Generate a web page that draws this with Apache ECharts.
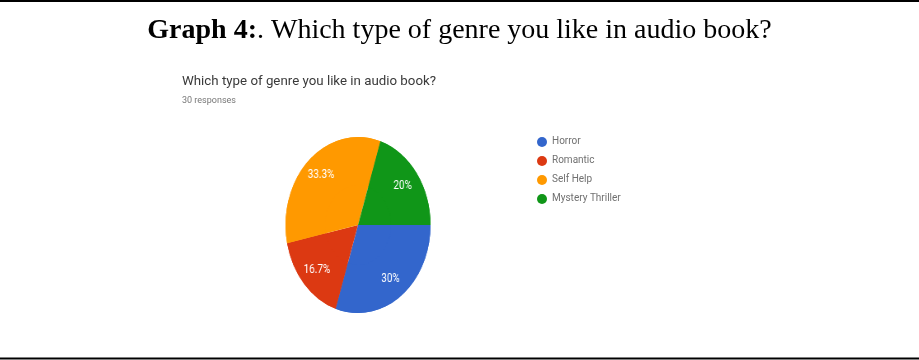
<!DOCTYPE html>
<html>
<head>
<meta charset="utf-8">
<script src="https://cdn.jsdelivr.net/npm/echarts@6/dist/echarts.min.js"></script>
<style>
  html, body { margin: 0; padding: 0; background: #fff; }
  #page { position: absolute; left: 0; top: 0; width: 919px; height: 360px; }
  /* the pie is drawn in its own layer and squeezed horizontally into an ellipse */
  #pie { position: absolute; left: 258px; top: 130px; width: 200px; height: 190px;
         transform: scaleX(0.824); transform-origin: 50% 50%; filter: blur(0.4px); }
</style>
</head>
<body>
<div id="page"></div>
<div id="pie"></div>
<script>
// Survey answers: which audio book genre do you like?
const genres = ['Horror', 'Romantic', 'Self Help', 'Mystery Thriller'];
const responses = [9, 5, 10, 6];
const genreColors = ['#3366cc', '#dc3912', '#ff9900', '#109618'];

const captionBold = 'Graph 4:';
const captionText = '. Which type of genre you like in audio book?';
const formTitle = 'Which type of genre you like in audio book?';
const totalResponses = responses.reduce((a, b) => a + b, 0);
const formSubtitle = totalResponses + ' responses';

// ---- page layer: frame rules, caption, form title and legend ----
const page = echarts.init(document.getElementById('page'), null, { renderer: 'canvas' });

const legendTop = 142, legendGap = 19;
const legendGraphics = [];
genres.forEach((name, i) => {
  const y = legendTop + i * legendGap;
  legendGraphics.push({
    type: 'circle', shape: { cx: 542, cy: y, r: 5 },
    style: { fill: genreColors[i] }
  });
  legendGraphics.push({
    type: 'text', left: 552, top: y - 6,
    style: { text: name, fontFamily: 'Roboto', fontSize: 10, fill: '#707070' }
  });
});

page.setOption({
  animation: false,
  title: [
    {
      text: '{b|' + captionBold + '}{n|' + captionText + '}',
      left: 'center', top: 17, padding: 0,
      textStyle: {
        rich: {
          b: { fontFamily: 'Liberation Serif', fontWeight: 'bold', fontSize: 28, color: '#000' },
          n: { fontFamily: 'Liberation Serif', fontWeight: 'normal', fontSize: 28, color: '#000' }
        }
      }
    },
    {
      text: formTitle, left: 182, top: 75, padding: 0,
      textStyle: { fontFamily: 'Roboto', fontWeight: 'normal', fontSize: 13.3, color: '#3a3a3a' }
    },
    {
      text: formSubtitle, left: 182, top: 96, padding: 0,
      textStyle: { fontFamily: 'Roboto', fontWeight: 'normal', fontSize: 9, color: '#777' }
    }
  ],
  graphic: [
    { type: 'rect', shape: { x: 0, y: 0, width: 919, height: 2 }, style: { fill: '#000' } },
    { type: 'rect', shape: { x: 0, y: 357.5, width: 919, height: 2 }, style: { fill: '#000' } }
  ].concat(legendGraphics)
});

// ---- pie layer ----
const pie = echarts.init(document.getElementById('pie'), null, { renderer: 'canvas' });
const pieData = genres.map((name, i) => ({
  name: name, value: responses[i], itemStyle: { color: genreColors[i] }
}));

pie.setOption({
  animation: false,
  series: [
    {
      type: 'pie', center: ['50%', 95], radius: [0, 88],
      startAngle: 0, clockwise: true, silent: true,
      label: { show: false }, labelLine: { show: false },
      itemStyle: { borderWidth: 0 },
      data: pieData
    },
    {
      // outer ring carries the percentage labels a bit further out than the middle
      type: 'pie', center: ['50%', 95], radius: [40, 88],
      startAngle: 0, clockwise: true, silent: true,
      itemStyle: { borderWidth: 0 },
      labelLine: { show: false },
      label: {
        show: true, position: 'inside',
        fontFamily: 'Roboto', fontSize: 12, color: '#fff',
        formatter: p => (Math.round(p.percent * 10) / 10) + '%'
      },
      data: pieData
    }
  ]
});
</script>
</body>
</html>
